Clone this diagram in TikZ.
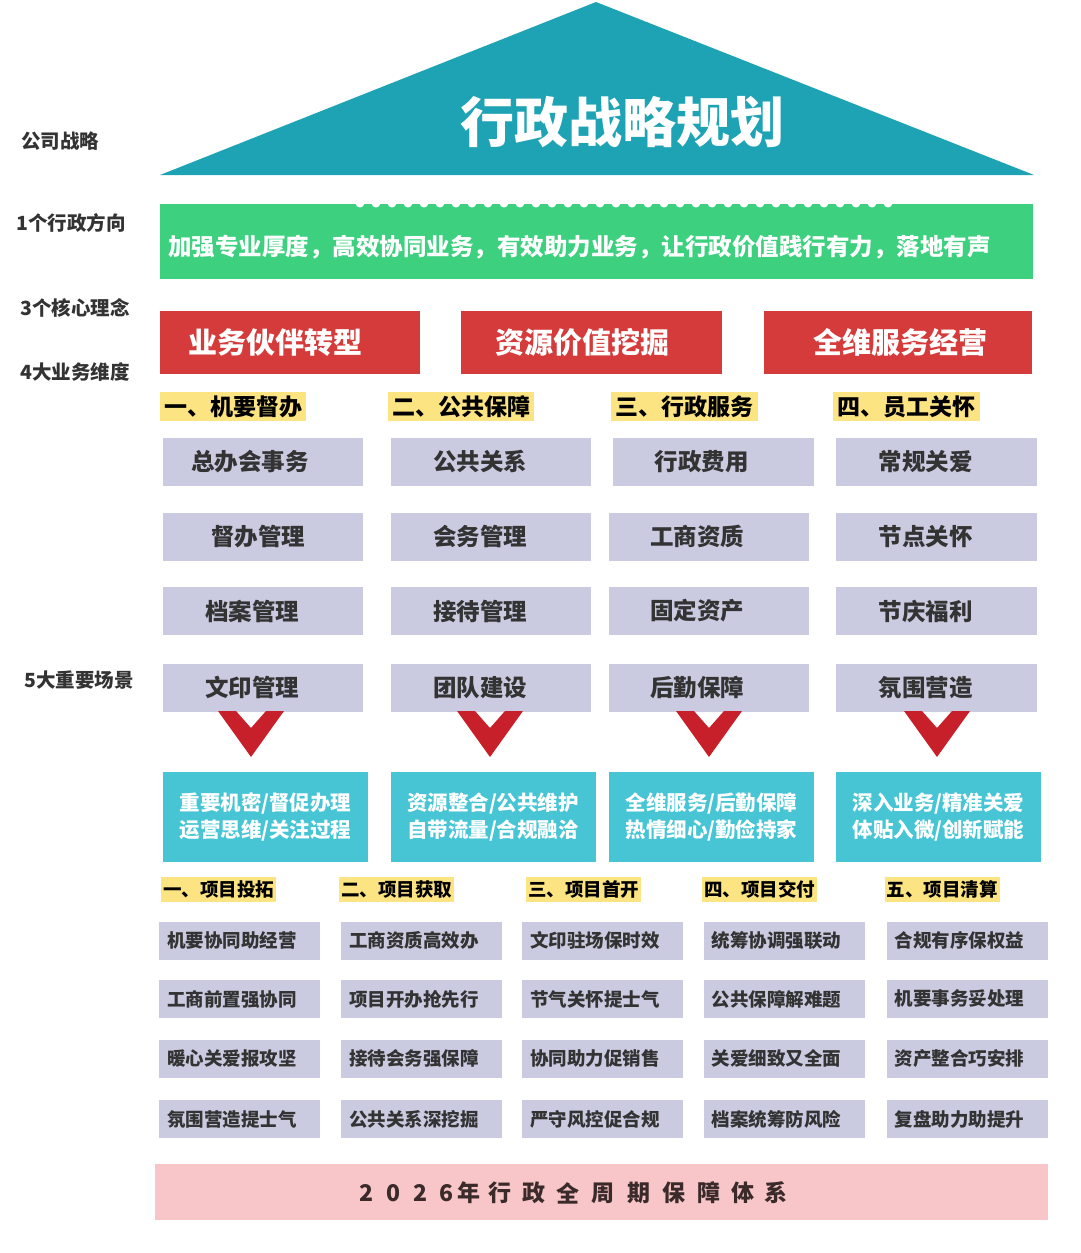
\documentclass[tikz,border=0pt]{standalone}
\usepackage{fontspec}
\setmainfont{Noto Sans CJK SC}
\definecolor{tealdark}{HTML}{1EA3B5}
\definecolor{greenb}{HTML}{3DD17F}
\definecolor{redb}{HTML}{D53B3B}
\definecolor{yellowb}{HTML}{FDE482}
\definecolor{lavb}{HTML}{CACBE1}
\definecolor{teall}{HTML}{47C5D5}
\definecolor{chev}{HTML}{C8202A}
\definecolor{pinkb}{HTML}{F8C6C9}
\definecolor{darkt}{HTML}{333333}
\definecolor{bart}{HTML}{3A2A2A}
\newcommand\fs[1]{\fontsize{#1}{#1}\selectfont}
\newcommand\shf[2]{\hspace*{#1}#2}
\tikzset{
  sidelbl/.style={anchor=west, inner sep=0, text=darkt, font=\fs{19.5}\bfseries},
  redbox/.style={fill=redb, inner sep=0, minimum height=63pt, text=white, font=\fs{29}\bfseries},
  ylw/.style={fill=yellowb, inner sep=0, minimum height=29pt, text=black, font=\fs{23}\bfseries},
  ylws/.style={fill=yellowb, inner sep=0, minimum height=25pt, minimum width=115pt, text=black, font=\fs{18.5}\bfseries},
  lav/.style={fill=lavb, inner sep=0, minimum height=48pt, text=darkt, font=\fs{23.5}\bfseries},
  tealbox/.style={fill=teall, inner sep=0, minimum width=205pt, minimum height=90pt, text=white, align=center, font=\fontsize{20.5}{27}\selectfont\bfseries},
  lavs/.style={fill=lavb, inner xsep=8pt, inner ysep=0, text width=145pt, minimum height=38pt, align=left, text=darkt, font=\fs{18.5}\bfseries},
  chevron/.style={fill=chev},
}
\begin{document}
\begin{tikzpicture}[x=1pt,y=-1pt]
\useasboundingbox (0,0) rectangle (1080,1253);
% triangle
\fill[tealdark] (596,2) -- (1034,175) -- (160,175) -- cycle;
\node[text=white, font=\fs{54}\bfseries, inner sep=0] (title) at (622,122) {行政战略规划};
% green banner
\node[fill=greenb, inner sep=0, minimum width=873pt, minimum height=75pt] (dir) at (596.5,241.5) {};
\foreach \i in {0,...,33} \fill[white] (360+16*\i,203) circle (4.5);
\node[anchor=west, inner sep=0, text=white, font=\fs{23.5}\bfseries] (dirtxt) at (168,247) {加强专业厚度，高效协同业务，有效助力业务，让行政价值践行有力，落地有声};
% side labels
\node[sidelbl] (l1) at (21,141) {公司战略};
\node[sidelbl] (l2) at (16,223) {1个行政方向};
\node[sidelbl] (l3) at (20,308) {3个核心理念};
\node[sidelbl] (l4) at (20,372) {4大业务维度};
\node[sidelbl] (l5) at (24,680) {5大重要场景};
% red boxes
\node[redbox, minimum width=260pt] (r1) at (290,342.5) {\shf{-30pt}{业务伙伴转型}};
\node[redbox, minimum width=261pt] (r2) at (591.5,342.5) {\shf{-18pt}{资源价值挖掘}};
\node[redbox, minimum width=268pt] (r3) at (898,342.5) {\shf{4pt}{全维服务经营}};
% yellow category labels
\node[ylw, minimum width=146pt] (c1) at (233,406.5) {一、机要督办};
\node[ylw, minimum width=146pt] (c2) at (461,406.5) {二、公共保障};
\node[ylw, minimum width=147pt] (c3) at (684.5,406.5) {三、行政服务};
\node[ylw, minimum width=147pt] (c4) at (906.5,406.5) {四、员工关怀};
% lavender boxes
\node[lav, minimum width=200pt] (a1) at (263,461.5) {\shf{-26pt}{总办会事务}};
\node[lav, minimum width=200pt] (a2) at (263,536.5) {\shf{-10pt}{督办管理}};
\node[lav, minimum width=200pt] (a3) at (263,611) {\shf{-22pt}{档案管理}};
\node[lav, minimum width=200pt] (a4) at (263,687.5) {\shf{-22pt}{文印管理}};
\node[lav, minimum width=200pt] (b1) at (491,461.5) {\shf{-22pt}{公共关系}};
\node[lav, minimum width=200pt] (b2) at (491,536.5) {\shf{-22pt}{会务管理}};
\node[lav, minimum width=200pt] (b3) at (491,611) {\shf{-22pt}{接待管理}};
\node[lav, minimum width=200pt] (b4) at (491,687.5) {\shf{-22pt}{团队建设}};
\node[lav, minimum width=201pt] (d1) at (713.5,461.5) {\shf{-24pt}{行政费用}};
\node[lav, minimum width=200pt] (d2) at (709,536.5) {\shf{-24pt}{工商资质}};
\node[lav, minimum width=200pt] (d3) at (709,611) {\shf{-24pt}{固定资产}};
\node[lav, minimum width=200pt] (d4) at (709,687.5) {\shf{-24pt}{后勤保障}};
\node[lav, minimum width=201pt] (e1) at (936.5,461.5) {\shf{-22pt}{常规关爱}};
\node[lav, minimum width=201pt] (e2) at (936.5,536.5) {\shf{-22pt}{节点关怀}};
\node[lav, minimum width=201pt] (e3) at (936.5,611) {\shf{-22pt}{节庆福利}};
\node[lav, minimum width=201pt] (e4) at (936.5,687.5) {\shf{-22pt}{氛围营造}};
% chevrons
\foreach \c in {251,490,709,937}
  \fill[chevron] (\c-33,711) -- (\c-15,711) -- (\c,728) -- (\c+15,711) -- (\c+33,711) -- (\c,757) -- cycle;
% teal boxes
\node[tealbox] (t1) at (265.5,817) {重要机密/督促办理\\运营思维/关注过程};
\node[tealbox] (t2) at (493,817) {资源整合/公共维护\\自带流量/合规融洽};
\node[tealbox] (t3) at (711.5,817) {全维服务/后勤保障\\热情细心/勤俭持家};
\node[tealbox] (t4) at (938.5,817) {深入业务/精准关爱\\体贴入微/创新赋能};
% phase labels
\node[ylws] (p1) at (218.5,889.5) {一、项目投拓};
\node[ylws] (p2) at (396.5,889.5) {二、项目获取};
\node[ylws] (p3) at (583.5,889.5) {三、项目首开};
\node[ylws] (p4) at (759.5,889.5) {四、项目交付};
\node[ylws] (p5) at (942,889.5) {五、项目清算};
% small lavender boxes
\foreach \x/\n/\a/\b/\cc/\d in {
  239.5/s1/机要协同助经营/工商前置强协同/暖心关爱报攻坚/氛围营造提士气,
  421.5/s2/工商资质高效办/项目开办抢先行/接待会务强保障/公共关系深挖掘,
  602.5/s3/文印驻场保时效/节气关怀提士气/协同助力促销售/严守风控促合规,
  784/s4/统筹协调强联动/公共保障解难题/关爱细致又全面/档案统筹防风险,
  967/s5/合规有序保权益/机要事务妥处理/资产整合巧安排/复盘助力助提升} {
  \node[lavs] (\n a) at (\x,940.5) {\a};
  \node[lavs] (\n b) at (\x,999) {\b};
  \node[lavs] (\n c) at (\x,1058.5) {\cc};
  \node[lavs] (\n d) at (\x,1119) {\d};
}
% pink bar
\node[fill=pinkb, inner sep=0, minimum width=893pt, minimum height=56pt] (bar) at (601.5,1192) {};
\foreach \ch/\x [count=\k] in {2/366,0/393,2/420,6/446,年/469,行/500,政/534,全/568,周/603,期/639,保/674,障/709,体/743,系/776}
  \node[text=bart, font=\fs{23}\bfseries, inner sep=0] (bc\k) at (\x,1193) {\ch};
\end{tikzpicture}
\end{document}
